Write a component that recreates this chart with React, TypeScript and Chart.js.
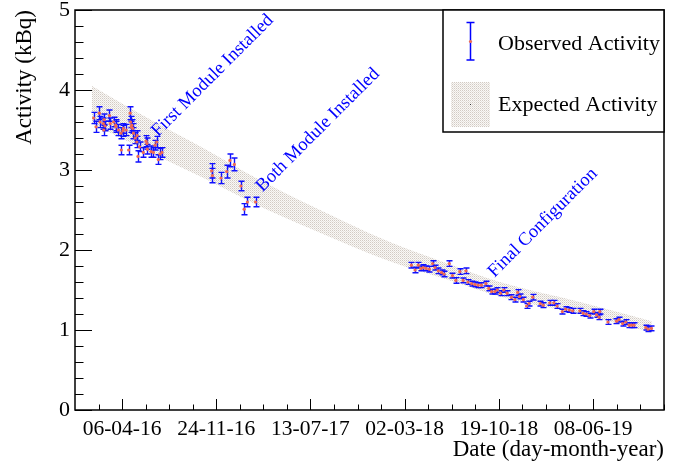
import React, { useEffect, useRef } from 'react';
import { Chart, registerables } from 'chart.js';

Chart.register(...registerables);

// ---- axis definition (days since 06-04-2016) ----
const tickLabels = ['06-04-16', '24-11-16', '13-07-17', '02-03-18', '19-10-18', '08-06-19'];
const tickStepDays = 231.48; // 2e7 seconds
const xMinDay = -115.7;
const xMaxDay = 1331.8;
const yMin = 0;
const yMax = 5;

// ---- observed activity (kBq) with errors ----
const obsDays = [
  -70, -64, -56, -54, -46, -45, -44, -42, -31, -29, -21, -16, -15, -9, -3, -2, 2, 3, 10, 16,
  20, 21, 22, 24, 26, 28, 32, 36, 37, 39, 43, 52, 59, 61, 62, 71, 77, 81, 85, 89, 93, 98,
  220, 222, 243, 257, 265, 276, 292, 300, 308, 328,
  711, 720, 728, 734, 740, 747, 755, 763, 769, 777, 785, 791, 804, 812, 820, 830, 838, 845,
  850, 859, 867, 875, 883, 894, 901, 908, 916, 922, 930, 938, 946, 957, 965, 972, 977, 986,
  994, 1000, 1009, 1028, 1035, 1051, 1061, 1069, 1082, 1090, 1099, 1107, 1125, 1133, 1141,
  1149, 1159, 1166, 1172, 1174, 1194, 1215, 1221, 1230, 1238, 1246, 1252, 1258, 1287, 1293, 1301,
];
const obsValues = [
  3.65, 3.54, 3.71, 3.60, 3.58, 3.50, 3.63, 3.55, 3.68, 3.58, 3.60, 3.56, 3.54, 3.50, 3.46, 3.25, 3.49, 3.52, 3.50, 3.25,
  3.71, 3.60, 3.54, 3.56, 3.52, 3.46, 3.40, 3.35, 3.43, 3.17, 3.29, 3.22, 3.36, 3.33, 3.26, 3.23, 3.22, 3.31, 3.35, 3.13, 3.20, 3.22,
  2.99, 2.93, 2.90, 2.98, 3.12, 3.07, 2.80, 2.51, 2.60, 2.60,
  1.81, 1.75, 1.81, 1.77, 1.78, 1.77, 1.76, 1.83, 1.78, 1.74, 1.72, 1.70, 1.83, 1.68, 1.62, 1.73, 1.62, 1.74,
  1.60, 1.58, 1.57, 1.56, 1.56, 1.58, 1.52, 1.48, 1.48, 1.50, 1.46, 1.50, 1.46, 1.41, 1.38, 1.47, 1.42, 1.38,
  1.30, 1.33, 1.41, 1.33, 1.31, 1.34, 1.34, 1.30, 1.23, 1.26, 1.25, 1.24, 1.24, 1.21, 1.20,
  1.18, 1.23, 1.19, 1.16, 1.23, 1.10, 1.11, 1.13, 1.08, 1.10, 1.06, 1.06, 1.06, 1.03, 1.01, 1.02,
];
const obsErrors = [
  0.07, 0.07, 0.08, 0.07, 0.07, 0.07, 0.07, 0.06, 0.07, 0.07, 0.06, 0.07, 0.07, 0.07, 0.07, 0.06, 0.07, 0.06, 0.07, 0.06,
  0.08, 0.07, 0.07, 0.07, 0.06, 0.07, 0.07, 0.07, 0.06, 0.07, 0.06, 0.06, 0.07, 0.07, 0.06, 0.07, 0.06, 0.06, 0.07, 0.06, 0.07, 0.06,
  0.09, 0.09, 0.07, 0.08, 0.08, 0.08, 0.06, 0.07, 0.06, 0.06,
  0.035, 0.035, 0.035, 0.03, 0.035, 0.03, 0.035, 0.035, 0.03, 0.035, 0.03, 0.035, 0.035, 0.03, 0.035, 0.035, 0.03, 0.035,
  0.03, 0.03, 0.03, 0.03, 0.03, 0.03, 0.03, 0.03, 0.03, 0.03, 0.03, 0.03, 0.03, 0.03, 0.03, 0.035, 0.03, 0.03,
  0.03, 0.03, 0.035, 0.03, 0.03, 0.03, 0.03, 0.03, 0.03, 0.03, 0.03, 0.03, 0.03, 0.03, 0.03,
  0.03, 0.03, 0.03, 0.03, 0.03, 0.03, 0.03, 0.03, 0.03, 0.03, 0.03, 0.03, 0.03, 0.03, 0.03, 0.03,
];

// ---- expected activity band ----
const bandDays = [-74, 69, 208, 329, 462, 658, 806, 928, 1125, 1302];
const bandUpper = [4.05, 3.63, 3.25, 2.90, 2.56, 2.10, 1.82, 1.60, 1.35, 1.11];
const bandLower = [3.58, 3.22, 2.88, 2.57, 2.27, 1.86, 1.62, 1.42, 1.20, 0.97];

// ---- annotations (anchored at data coordinates) ----
const annotationTexts = ['First Module Installed', 'Both Module Installed', 'Final Configuration'];
const annotationDays = [88, 345, 915];
const annotationValues = [3.41, 2.72, 1.65];

const legendLabels = ['Observed Activity', 'Expected Activity'];
const xTitle = 'Date (day-month-year)';
const yTitle = 'Activity (kBq)';

const SERIF = "'Liberation Serif', 'Times New Roman', serif";

export default function App() {
  const canvasRef = useRef<HTMLCanvasElement>(null);

  useEffect(() => {
    document.body.style.margin = '0';
    const canvas = canvasRef.current!;
    const ctx0 = canvas.getContext('2d')!;

    const tile = document.createElement('canvas');
    tile.width = 2;
    tile.height = 2;
    const tctx = tile.getContext('2d')!;
    tctx.fillStyle = '#f9f8f6';
    tctx.fillRect(0, 0, 2, 2);
    tctx.fillStyle = '#d2cac3';
    tctx.fillRect(0, 0, 1, 1);
    tctx.fillStyle = '#e6e1dc';
    tctx.fillRect(1, 1, 1, 1);
    const pattern = ctx0.createPattern(tile, 'repeat')!;

    const rootPlugin = {
      id: 'rootStyle',
      beforeDatasetDraw(chart: any, args: any) {
        if (args.index !== 0) return;
        const { ctx } = chart;
        const x = chart.scales.x;
        const y = chart.scales.y;
        ctx.save();
        ctx.strokeStyle = '#1010ff';
        ctx.lineWidth = 1.4;
        obsDays.forEach((d, i) => {
          const px = Math.round(x.getPixelForValue(d)) + 0.5;
          const y1 = y.getPixelForValue(obsValues[i] + obsErrors[i]);
          const y2 = y.getPixelForValue(obsValues[i] - obsErrors[i]);
          ctx.beginPath();
          ctx.moveTo(px, y1);
          ctx.lineTo(px, y2);
          ctx.moveTo(px - 3, y1);
          ctx.lineTo(px + 3, y1);
          ctx.moveTo(px - 3, y2);
          ctx.lineTo(px + 3, y2);
          ctx.stroke();
        });
        ctx.restore();
      },
      afterDraw(chart: any) {
        const { ctx, chartArea } = chart;
        const x = chart.scales.x;
        const y = chart.scales.y;
        const { left, right, top, bottom } = chartArea;
        ctx.save();
        // frame
        ctx.strokeStyle = '#000';
        ctx.lineWidth = 1.5;
        ctx.strokeRect(left, top, right - left, bottom - top);
        // x ticks (inside)
        ctx.lineWidth = 1;
        const minorStep = tickStepDays / 4;
        const kStart = Math.ceil(xMinDay / minorStep);
        const kEnd = Math.floor(xMaxDay / minorStep);
        ctx.beginPath();
        for (let k = kStart; k <= kEnd; k++) {
          const px = Math.round(x.getPixelForValue(k * minorStep)) + 0.5;
          const len = k % 4 === 0 ? 11 : 5.5;
          ctx.moveTo(px, bottom);
          ctx.lineTo(px, bottom - len);
        }
        // y ticks (inside)
        for (let j = 0; j <= 25; j++) {
          const v = yMin + j * 0.2;
          const py = Math.round(y.getPixelForValue(v)) + 0.5;
          const len = j % 5 === 0 ? 17 : 8.5;
          ctx.moveTo(left, py);
          ctx.lineTo(left + len, py);
        }
        ctx.stroke();

        // annotations
        ctx.fillStyle = '#0000ff';
        ctx.font = `18.5px ${SERIF}`;
        ctx.textBaseline = 'alphabetic';
        ctx.textAlign = 'left';
        annotationTexts.forEach((t, i) => {
          ctx.save();
          ctx.translate(x.getPixelForValue(annotationDays[i]), y.getPixelForValue(annotationValues[i]));
          ctx.rotate(-Math.PI / 4);
          ctx.fillText(t, 0, 0);
          ctx.restore();
        });

        // legend
        const lx0 = 443;
        const ly0 = top;
        const lx1 = right;
        const ly1 = 132;
        ctx.fillStyle = '#fff';
        ctx.fillRect(lx0, ly0, lx1 - lx0, ly1 - ly0);
        ctx.strokeStyle = '#000';
        ctx.lineWidth = 1.5;
        ctx.strokeRect(lx0, ly0, lx1 - lx0, ly1 - ly0);
        // observed symbol
        ctx.strokeStyle = '#0000ff';
        ctx.lineWidth = 1.5;
        ctx.beginPath();
        ctx.moveTo(470.5, 22.5);
        ctx.lineTo(470.5, 60);
        ctx.moveTo(466.5, 22.5);
        ctx.lineTo(474.5, 22.5);
        ctx.moveTo(466.5, 60);
        ctx.lineTo(474.5, 60);
        ctx.stroke();
        ctx.fillStyle = '#f06a50';
        ctx.beginPath();
        ctx.arc(470.5, 41.5, 1.6, 0, Math.PI * 2);
        ctx.fill();
        // expected symbol
        ctx.fillStyle = pattern;
        ctx.fillRect(451, 82, 39, 45);
        ctx.fillStyle = '#333';
        ctx.fillRect(470, 104, 1, 1);
        ctx.fillStyle = '#000';
        ctx.font = `22px ${SERIF}`;
        ctx.textBaseline = 'alphabetic';
        ctx.fillText(legendLabels[0], 498, 50);
        ctx.fillText(legendLabels[1], 498, 111);
        ctx.restore();
      },
    };

    const chart = new Chart(canvas, {
      type: 'scatter',
      data: {
        datasets: [
          {
            label: legendLabels[0],
            data: obsDays.map((d, i) => ({ x: d, y: obsValues[i] })),
            pointRadius: 1.6,
            pointBackgroundColor: '#f06a50',
            pointBorderWidth: 0,
            showLine: false,
          },
          {
            type: 'line',
            label: 'upper',
            data: bandDays.map((d, i) => ({ x: d, y: bandUpper[i] })),
            pointRadius: 0,
            borderWidth: 0,
            borderColor: 'rgba(0,0,0,0)',
            cubicInterpolationMode: 'monotone',
            fill: false,
          },
          {
            type: 'line',
            label: legendLabels[1],
            data: bandDays.map((d, i) => ({ x: d, y: bandLower[i] })),
            pointRadius: 0,
            borderWidth: 0,
            borderColor: 'rgba(0,0,0,0)',
            backgroundColor: pattern,
            cubicInterpolationMode: 'monotone',
            fill: '-1',
          },
        ] as any,
      },
      options: {
        animation: false,
        responsive: false,
        devicePixelRatio: 1,
        layout: { padding: { top: 10, right: 25, left: 0, bottom: 0 } },
        plugins: {
          legend: { display: false },
          tooltip: { enabled: false },
        },
        scales: {
          x: {
            type: 'linear',
            min: xMinDay,
            max: xMaxDay,
            grid: { display: false, drawTicks: false, tickLength: 0 },
            border: { display: false },
            afterBuildTicks: (scale: any) => {
              scale.ticks = tickLabels.map((_, i) => ({ value: i * tickStepDays }));
            },
            afterFit: (scale: any) => {
              scale.height = 55;
              scale.paddingLeft = 0;
              scale.paddingRight = 0;
            },
            ticks: {
              autoSkip: false,
              maxRotation: 0,
              padding: 6,
              color: '#000',
              font: { family: SERIF, size: 21.5 },
              callback: (_v: any, i: number) => tickLabels[i],
            },
            title: {
              display: true,
              text: xTitle,
              align: 'end',
              color: '#000',
              font: { family: SERIF, size: 23 },
              padding: { top: 0, bottom: 1 },
            },
          },
          y: {
            min: yMin,
            max: yMax,
            grid: { display: false, drawTicks: false, tickLength: 0 },
            border: { display: false },
            afterFit: (scale: any) => {
              scale.width = 75;
              scale.paddingTop = 0;
              scale.paddingBottom = 0;
            },
            ticks: {
              stepSize: 1,
              padding: 5,
              color: '#000',
              font: { family: SERIF, size: 22 },
            },
            title: {
              display: true,
              text: yTitle,
              align: 'end',
              color: '#000',
              font: { family: SERIF, size: 23 },
              padding: { top: 11, bottom: 0 },
            },
          },
        },
      } as any,
      plugins: [rootPlugin],
    });

    return () => chart.destroy();
  }, []);

  return (
    <div style={{ width: 689, height: 465, background: '#fff' }}>
      <canvas ref={canvasRef} width={689} height={465} />
    </div>
  );
}
